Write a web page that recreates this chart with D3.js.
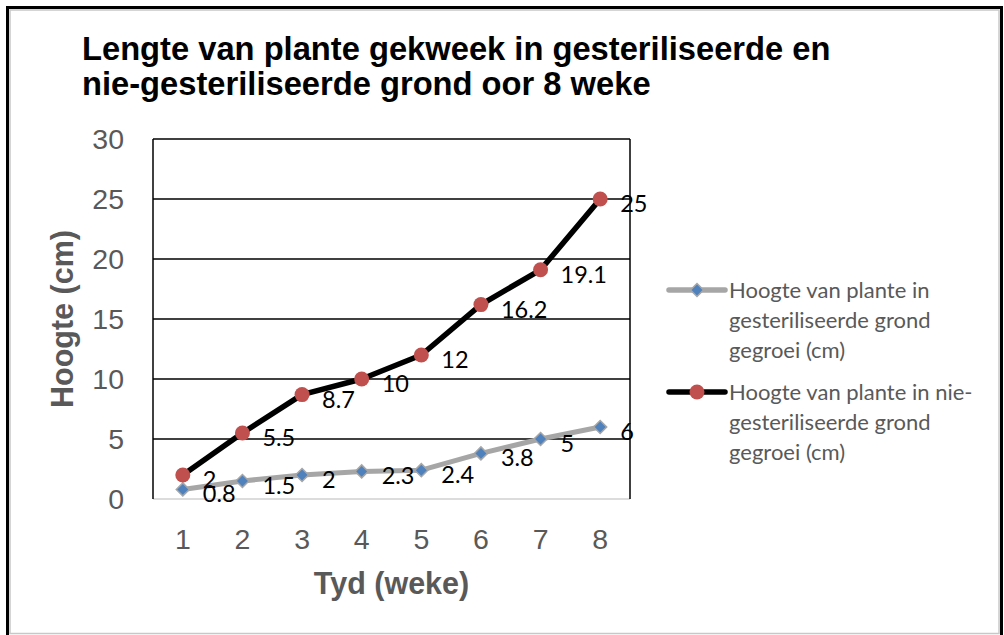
<!DOCTYPE html>
<html>
<head>
<meta charset="utf-8">
<script src="https://cdn.jsdelivr.net/npm/d3@7"></script>
<style>
  body { margin: 0; background: #fff; }
  svg { display: block; }
  .title { font-family: "Liberation Sans", Arial, sans-serif; font-weight: bold; font-size: 32.7px; fill: #000; }
  .axis-title { font-family: "Liberation Sans", Arial, sans-serif; font-weight: bold; font-size: 30.5px; fill: #595959; }
  .tick-label { font-family: "Liberation Sans", Arial, sans-serif; font-size: 28.5px; fill: #595959; }
  .data-label { font-family: Lato, sans-serif; font-size: 23.5px; fill: #000; }
  .legend-label { font-family: Lato, sans-serif; font-size: 22px; fill: #595959; }
</style>
</head>
<body>
<svg></svg>
<script>
const w = 1004;
const h = 635;

// Data
const weeks = [1, 2, 3, 4, 5, 6, 7, 8];
const sterile = [0.8, 1.5, 2, 2.3, 2.4, 3.8, 5, 6];
const nonSterile = [2, 5.5, 8.7, 10, 12, 16.2, 19.1, 25];
const yTicks = [0, 5, 10, 15, 20, 25, 30];
const titleLines = [
    "Lengte van plante gekweek in gesteriliseerde en",
    "nie-gesteriliseerde grond oor 8 weke"
];
const legendLines = [
    ["Hoogte van plante in", "gesteriliseerde grond", "gegroei (cm)"],
    ["Hoogte van plante in nie-", "gesteriliseerde grond", "gegroei (cm)"]
];

const svg = d3.select("svg")
    .attr("width", w)
    .attr("height", h);

// frame
svg.append("rect")
    .attr("x", 7.5).attr("y", 7.5)
    .attr("width", 994).attr("height", 640)
    .attr("fill", "none")
    .attr("stroke", "#000")
    .attr("stroke-width", 3);
svg.append("rect")
    .attr("x", 10).attr("y", 10)
    .attr("width", 989).attr("height", 623.5)
    .attr("fill", "none")
    .attr("stroke", "#c8c8c8")
    .attr("stroke-width", 1.5);

// title
svg.append("text")
    .attr("class", "title")
    .selectAll("tspan")
    .data(titleLines)
    .enter()
    .append("tspan")
    .attr("x", 82)
    .attr("y", (d, i) => 60 + i * 35)
    .text(d => d);

// scales
const plot = { left: 153, right: 630, top: 139, bottom: 499 };

const x = d3.scaleBand()
    .domain(weeks)
    .range([plot.left, plot.right]);

const y = d3.scaleLinear()
    .domain([0, 30])
    .range([plot.bottom, plot.top]);

const cx = d => x(d) + x.bandwidth() / 2;

// gridlines
svg.selectAll(".grid")
    .data(yTicks.filter(t => t > 0))
    .enter()
    .append("line")
    .attr("class", "grid")
    .attr("x1", plot.left)
    .attr("x2", plot.right)
    .attr("y1", d => y(d))
    .attr("y2", d => y(d))
    .attr("stroke", "#000")
    .attr("stroke-width", 1.5);

// plot border + axes
svg.append("line")
    .attr("x1", plot.left).attr("x2", plot.right)
    .attr("y1", plot.bottom).attr("y2", plot.bottom)
    .attr("stroke", "#d0d0d0")
    .attr("stroke-width", 1.5);
svg.append("line")
    .attr("x1", plot.left).attr("x2", plot.left)
    .attr("y1", plot.top).attr("y2", plot.bottom)
    .attr("stroke", "#000")
    .attr("stroke-width", 1.5);
svg.append("line")
    .attr("x1", plot.right).attr("x2", plot.right)
    .attr("y1", plot.top).attr("y2", plot.bottom)
    .attr("stroke", "#000")
    .attr("stroke-width", 1.5);

// tick labels
svg.selectAll(".ytick")
    .data(yTicks)
    .enter()
    .append("text")
    .attr("class", "tick-label")
    .attr("x", 124)
    .attr("y", d => y(d))
    .attr("dy", "0.36em")
    .attr("text-anchor", "end")
    .text(d => d);

svg.selectAll(".xtick")
    .data(weeks)
    .enter()
    .append("text")
    .attr("class", "tick-label")
    .attr("x", d => cx(d))
    .attr("y", 549)
    .attr("text-anchor", "middle")
    .text(d => d);

// axis titles
svg.append("text")
    .attr("class", "axis-title")
    .attr("x", (plot.left + plot.right) / 2)
    .attr("y", 594)
    .attr("text-anchor", "middle")
    .text("Tyd (weke)");

svg.append("text")
    .attr("class", "axis-title")
    .attr("transform", `translate(73,${(plot.top + plot.bottom) / 2}) rotate(-90)`)
    .attr("text-anchor", "middle")
    .text("Hoogte (cm)");

// lines
const line = d3.line()
    .x((d, i) => cx(weeks[i]))
    .y(d => y(d));

svg.append("path")
    .datum(sterile)
    .attr("d", line)
    .attr("fill", "none")
    .attr("stroke", "#a6a6a6")
    .attr("stroke-width", 5)
    .attr("stroke-linejoin", "round");

svg.append("path")
    .datum(nonSterile)
    .attr("d", line)
    .attr("fill", "none")
    .attr("stroke", "#000")
    .attr("stroke-width", 5.5)
    .attr("stroke-linejoin", "round");

// markers (square turned 45deg = Excel diamond)
const diamond = d3.symbol().type(d3.symbolSquare).size(85);

svg.selectAll(".dia")
    .data(sterile)
    .enter()
    .append("path")
    .attr("class", "dia")
    .attr("d", diamond)
    .attr("transform", (d, i) => `translate(${cx(weeks[i])},${y(d)}) rotate(45)`)
    .attr("fill", "#4f81bd")
    .attr("stroke", "#a6a6a6")
    .attr("stroke-width", 1.5);

svg.selectAll(".dot")
    .data(nonSterile)
    .enter()
    .append("circle")
    .attr("class", "dot")
    .attr("cx", (d, i) => cx(weeks[i]))
    .attr("cy", d => y(d))
    .attr("r", 7.5)
    .attr("fill", "#c0504d");

// data labels
[sterile, nonSterile].forEach(series => {
    svg.selectAll(null)
        .data(series)
        .enter()
        .append("text")
        .attr("class", "data-label")
        .attr("x", (d, i) => cx(weeks[i]) + 20)
        .attr("y", (d, i) => y(d) + 13)
        .text(d => d);
});

// legend
const legend = svg.append("g");
const legendY = [290, 392];

legendLines.forEach((lines, k) => {
    const ly = legendY[k];
    legend.append("line")
        .attr("x1", 669).attr("x2", 725)
        .attr("y1", ly).attr("y2", ly)
        .attr("stroke", k === 0 ? "#a6a6a6" : "#000")
        .attr("stroke-width", 5.5)
        .attr("stroke-linecap", "round");
    if (k === 0) {
        legend.append("path")
            .attr("d", diamond)
            .attr("transform", `translate(697,${ly}) rotate(45)`)
            .attr("fill", "#4f81bd")
            .attr("stroke", "#a6a6a6")
            .attr("stroke-width", 1.5);
    } else {
        legend.append("circle")
            .attr("cx", 697).attr("cy", ly)
            .attr("r", 7.5)
            .attr("fill", "#c0504d");
    }
    legend.append("text")
        .attr("class", "legend-label")
        .selectAll("tspan")
        .data(lines)
        .enter()
        .append("tspan")
        .attr("x", 729)
        .attr("y", (d, i) => ly + 8 + i * 30)
        .text(d => d);
});
</script>
</body>
</html>
